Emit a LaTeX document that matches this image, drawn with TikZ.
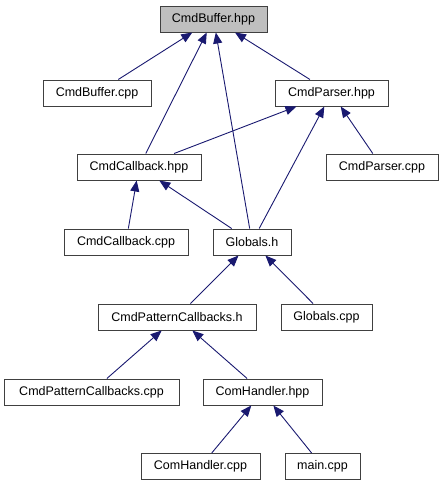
\documentclass[tikz,border=0pt]{standalone}
\usepackage{fontspec}
\setmainfont{Liberation Sans}
\definecolor{edgecol}{HTML}{191970}
\definecolor{boxline}{HTML}{404040}
\definecolor{rootfill}{HTML}{BFBFBF}
\usetikzlibrary{arrows.meta}

\begin{document}
\begin{tikzpicture}[x=1pt,y=-1pt,
  file/.style={draw=boxline,line width=1pt,fill=white,inner xsep=0pt,inner ysep=0pt,minimum height=26pt,font=\fontsize{12.5}{15}\selectfont},
  dep/.style={edgecol,line width=0.9pt,-{Triangle[length=11pt,width=9pt]}}]
\useasboundingbox(0,0)rectangle(444,485);
\node[file,fill=rootfill,minimum width=107pt](cbhpp)at(213.5,19){CmdBuffer.hpp};
\node[file,minimum width=108pt](cbcpp)at(97,93){CmdBuffer.cpp};
\node[file,minimum width=113pt](cphpp)at(331.5,93){CmdParser.hpp};
\node[file,minimum width=124pt](cchpp)at(139,167){CmdCallback.hpp};
\node[file,minimum width=112pt](cpcpp)at(382,167){CmdParser.cpp};
\node[file,minimum width=124pt](cccpp)at(126,242){CmdCallback.cpp};
\node[file,minimum width=78pt](glh)at(252,242){Globals.h};
\node[file,minimum width=158pt](pch)at(177,317){CmdPatternCallbacks.h};
\node[file,minimum width=91pt](glcpp)at(326.5,317){Globals.cpp};
\node[file,minimum width=175pt](pccpp)at(91.5,392){CmdPatternCallbacks.cpp};
\node[file,minimum width=119pt](chhpp)at(262.5,392){ComHandler.hpp};
\node[file,minimum width=119pt](chcpp)at(200.5,466.5){ComHandler.cpp};
\node[file,minimum width=75pt](maincpp)at(322.5,466.5){main.cpp};
% include edges, child -> included file
\draw[dep](cbcpp)--(cbhpp);\draw[dep](cchpp)--(cbhpp);\draw[dep](glh)--(cbhpp);\draw[dep](cphpp)--(cbhpp);
\draw[dep](cchpp)--(cphpp);\draw[dep](glh)--(cphpp);\draw[dep](cpcpp)--(cphpp);
\draw[dep](cccpp)--(cchpp);\draw[dep](glh)--(cchpp);
\draw[dep](pch)--(glh);\draw[dep](glcpp)--(glh);
\draw[dep](pccpp)--(pch);\draw[dep](chhpp)--(pch);
\draw[dep](chcpp)--(chhpp);\draw[dep](maincpp)--(chhpp);
\end{tikzpicture}
\end{document}
